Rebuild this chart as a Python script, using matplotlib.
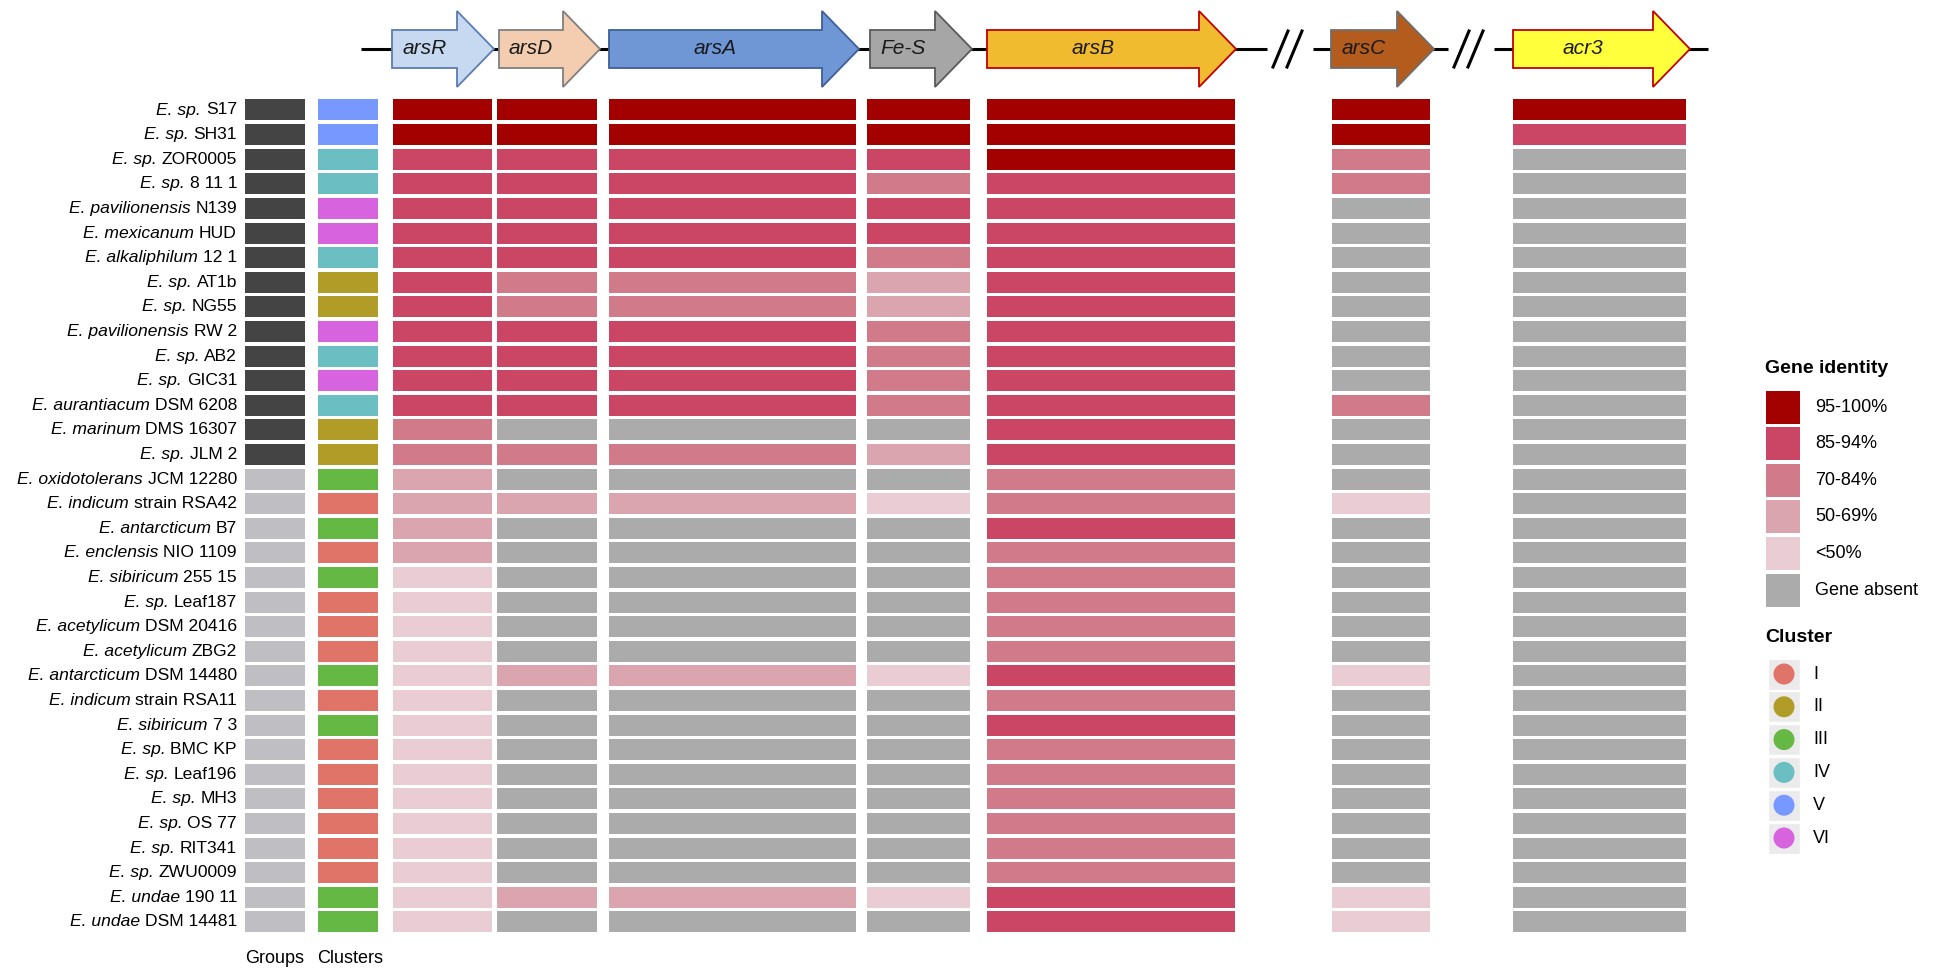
import numpy as np
import matplotlib
matplotlib.use('Agg')
import matplotlib.pyplot as plt
from matplotlib.patches import Polygon, Rectangle, Circle

plt.rcParams['font.family'] = ['Liberation Sans', 'DejaVu Sans']

# strain names: italic part, plain part
strain_italic = ['E. sp.', 'E. sp.', 'E. sp.', 'E. sp.', 'E. pavilionensis', 'E. mexicanum',
                 'E. alkaliphilum', 'E. sp.', 'E. sp.', 'E. pavilionensis', 'E. sp.', 'E. sp.',
                 'E. aurantiacum', 'E. marinum', 'E. sp.', 'E. oxidotolerans', 'E. indicum',
                 'E. antarcticum', 'E. enclensis', 'E. sibiricum', 'E. sp.', 'E. acetylicum',
                 'E. acetylicum', 'E. antarcticum', 'E. indicum', 'E. sibiricum', 'E. sp.',
                 'E. sp.', 'E. sp.', 'E. sp.', 'E. sp.', 'E. sp.', 'E. undae', 'E. undae']
strain_rest = ['S17', 'SH31', 'ZOR0005', '8 11 1', 'N139', 'HUD', '12 1', 'AT1b', 'NG55', 'RW 2',
               'AB2', 'GIC31', 'DSM 6208', 'DMS 16307', 'JLM 2', 'JCM 12280', 'strain RSA42', 'B7',
               'NIO 1109', '255 15', 'Leaf187', 'DSM 20416', 'ZBG2', 'DSM 14480', 'strain RSA11',
               '7 3', 'BMC KP', 'Leaf196', 'MH3', 'OS 77', 'RIT341', 'ZWU0009', '190 11', 'DSM 14481']

groups = [1, 1, 1, 1, 1, 1, 1, 1, 1, 1, 1, 1, 1, 1, 1,
          2, 2, 2, 2, 2, 2, 2, 2, 2, 2, 2, 2, 2, 2, 2, 2, 2, 2, 2]
clusters = ['V', 'V', 'IV', 'IV', 'VI', 'VI', 'IV', 'II', 'II', 'VI', 'IV', 'VI', 'IV', 'II', 'II',
            'III', 'I', 'III', 'I', 'III', 'I', 'I', 'I', 'III', 'I', 'III', 'I', 'I', 'I', 'I',
            'I', 'I', 'III', 'III']

# identity class: 5=95-100%, 4=85-94%, 3=70-84%, 2=50-69%, 1=<50%, 0=absent
arsR = [5, 5, 4, 4, 4, 4, 4, 4, 4, 4, 4, 4, 4, 3, 3, 2, 2, 2, 2, 1, 1, 1, 1, 1, 1, 1, 1, 1, 1, 1, 1, 1, 1, 1]
arsD = [5, 5, 4, 4, 4, 4, 4, 3, 3, 4, 4, 4, 4, 0, 3, 0, 2, 0, 0, 0, 0, 0, 0, 2, 0, 0, 0, 0, 0, 0, 0, 0, 2, 0]
arsA = [5, 5, 4, 4, 4, 4, 4, 3, 3, 4, 4, 4, 4, 0, 3, 0, 2, 0, 0, 0, 0, 0, 0, 2, 0, 0, 0, 0, 0, 0, 0, 0, 2, 0]
FeS = [5, 5, 4, 3, 4, 4, 3, 2, 2, 3, 3, 3, 3, 0, 2, 0, 1, 0, 0, 0, 0, 0, 0, 1, 0, 0, 0, 0, 0, 0, 0, 0, 1, 0]
arsB = [5, 5, 5, 4, 4, 4, 4, 4, 4, 4, 4, 4, 4, 4, 4, 3, 3, 4, 3, 3, 3, 3, 3, 4, 3, 4, 3, 3, 3, 3, 3, 3, 4, 4]
arsC = [5, 5, 3, 3, 0, 0, 0, 0, 0, 0, 0, 0, 3, 0, 0, 0, 1, 0, 0, 0, 0, 0, 0, 1, 0, 0, 0, 0, 0, 0, 0, 0, 1, 1]
acr3 = [5, 4, 0, 0, 0, 0, 0, 0, 0, 0, 0, 0, 0, 0, 0, 0, 0, 0, 0, 0, 0, 0, 0, 0, 0, 0, 0, 0, 0, 0, 0, 0, 0, 0]

identity_labels = ['95-100%', '85-94%', '70-84%', '50-69%', '<50%', 'Gene absent']
identity_colors = {5: '#A30000', 4: '#CB4565', 3: '#D07A8A', 2: '#DBA5B0', 1: '#EACCD5', 0: '#ABABAB'}
cluster_names = ['I', 'II', 'III', 'IV', 'V', 'VI']
cluster_colors = {'I': '#E07468', 'II': '#B09C26', 'III': '#66B844', 'IV': '#6BBFC3',
                  'V': '#7799FF', 'VI': '#D763DF'}
group_colors = {1: '#444444', 2: '#BFBEC3'}

# gene arrows: name, start, tip, fill, edge
genes = [('arsR', 392, 494, '#C6D9F1', '#5B7DB1'),
         ('arsD', 499, 600, '#F4CDB0', '#7F7F7F'),
         ('arsA', 609, 859, '#6F97D6', '#3E5F98'),
         ('Fe-S', 870, 972, '#A6A6A6', '#5A5A5A'),
         ('arsB', 987, 1236, '#F0BB2E', '#C00000'),
         ('arsC', 1331, 1434, '#B35C1E', '#6E6E6E'),
         ('acr3', 1513, 1690, '#FFFF3C', '#C00000')]

# heat columns (left, right) in figure pixels
columns = [(arsR, 393, 492), (arsD, 497, 597), (arsA, 609, 856), (FeS, 867, 970),
           (arsB, 987, 1235), (arsC, 1332, 1430), (acr3, 1513, 1686)]

fig = plt.figure(figsize=(19.5, 9.72), dpi=100)
ax = fig.add_axes([0, 0, 1, 1])
ax.set_xlim(0, 1950)
ax.set_ylim(972, 0)
ax.axis('off')

n = len(strain_rest)
ys = 110 + np.arange(n) * 24.6
bh = 21

# row labels
for i in range(n):
    t = ax.text(237, ys[i], strain_rest[i], ha='right', va='center', fontsize=12.6)
    ax.annotate(strain_italic[i], xy=(0, 0.5), xycoords=t, xytext=(-3.5, 0),
                textcoords='offset points', ha='right', va='center', fontsize=12.6, style='italic')

# groups and clusters
ax.barh(ys, 60, left=245, height=bh, color=[group_colors[g] for g in groups])
ax.barh(ys, 60, left=318, height=bh, color=[cluster_colors[c] for c in clusters])

for vals, x0, x1 in columns:
    ax.barh(ys, x1 - x0, left=x0, height=bh, color=[identity_colors[v] for v in vals])

# gene map line
yc = 49
for a, b in [(361, 1267), (1313, 1448), (1494, 1708)]:
    ax.plot([a, b], [yc, yc], color='black', lw=2.2, solid_capstyle='butt', zorder=1)
for xs in [(1273, 1288), (1287, 1302), (1454, 1469), (1468, 1483)]:
    ax.plot([xs[0], xs[1]], [yc + 18, yc - 18], color='black', lw=2.2, zorder=1)

for name, x0, tip, fc, ec in genes:
    xh = tip - 37
    pts = [(x0, yc - 19), (xh, yc - 19), (xh, yc - 38), (tip, yc), (xh, yc + 38),
           (xh, yc + 19), (x0, yc + 19)]
    ax.add_patch(Polygon(pts, closed=True, facecolor=fc, edgecolor=ec, lw=1.3, zorder=2))
    ax.text((x0 + xh) / 2, yc, name, ha='center', va='center', fontsize=15,
            style='italic', color='#1a1a1a', zorder=3)

# bottom labels
ax.text(275, 958, 'Groups', ha='center', va='center', fontsize=13)
ax.text(350, 958, 'Clusters', ha='center', va='center', fontsize=13)

# identity legend
ax.text(1765, 368, 'Gene identity', ha='left', va='center', fontsize=14, fontweight='bold')
for k, lab in enumerate(identity_labels):
    yy = 407 + k * 36.6
    ax.add_patch(Rectangle((1766, yy - 16.5), 34, 33, facecolor=identity_colors[5 - k], edgecolor='none'))
    ax.text(1815, yy, lab, ha='left', va='center', fontsize=13)

# cluster legend
ax.text(1765, 637, 'Cluster', ha='left', va='center', fontsize=14, fontweight='bold')
for k, cname in enumerate(cluster_names):
    yy = 674 + k * 32.8
    ax.add_patch(Rectangle((1768, yy - 15.5), 32, 31, facecolor='#EBEBEB', edgecolor='white', lw=1))
    ax.add_patch(Circle((1784, yy), 10.5, facecolor=cluster_colors[cname], edgecolor='none'))
    ax.text(1813, yy, cname, ha='left', va='center', fontsize=13)

fig.savefig('out.png', dpi=100)
